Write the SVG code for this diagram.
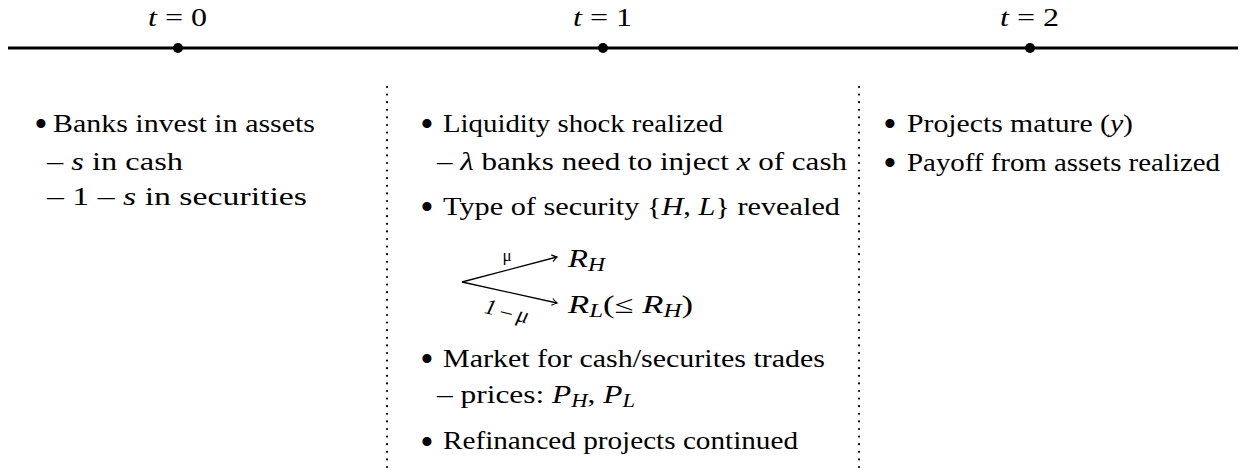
<svg xmlns="http://www.w3.org/2000/svg" width="1242" height="470" viewBox="0 0 1242 470">
<style>
text{font-family:'Liberation Serif','Times New Roman',serif;font-size:25px;fill:#000}
.i{font-style:italic}
.sub{font-size:18px;font-style:italic}
.b{text-anchor:middle;font-size:38px}
.dot{stroke:#000;stroke-width:2.2;stroke-linecap:round;stroke-dasharray:0 7.6;fill:none}
.arr{stroke:#000;stroke-width:1.3;fill:none}
</style>
<defs>
<marker id="ah" markerWidth="10" markerHeight="10" refX="0" refY="0" viewBox="-6 -5 8 10" orient="auto" markerUnits="userSpaceOnUse">
<path d="M-5,-3.5 Q-2,-1 0,0 Q-2,1 -5,3.5" stroke="#000" stroke-width="1.2" fill="none"/>
</marker>
</defs>
<g id="timeline">
<line x1="8" y1="48" x2="1238" y2="48" stroke="#000" stroke-width="3"/>
<circle cx="178" cy="48" r="5"/>
<circle cx="603" cy="48" r="5"/>
<circle cx="1030" cy="48" r="5"/>
<text x="148" y="26" textLength="59" lengthAdjust="spacingAndGlyphs"><tspan class="i">t</tspan> = 0</text>
<text x="573" y="26" textLength="59" lengthAdjust="spacingAndGlyphs"><tspan class="i">t</tspan> = 1</text>
<text x="1000" y="26" textLength="59" lengthAdjust="spacingAndGlyphs"><tspan class="i">t</tspan> = 2</text>
</g>
<g id="separators">
<line class="dot" x1="387" y1="87" x2="387" y2="470"/>
<line class="dot" x1="859" y1="87" x2="859" y2="470"/>
</g>
<g id="col0">
<text class="b" x="41" y="136.5">•</text>
<text x="53" y="132" textLength="262" lengthAdjust="spacingAndGlyphs">Banks invest in assets</text>
<text x="47" y="170" textLength="136" lengthAdjust="spacingAndGlyphs">– <tspan class="i">s</tspan> in cash</text>
<text x="47" y="205" textLength="260" lengthAdjust="spacingAndGlyphs">– 1 – <tspan class="i">s</tspan> in securities</text>
</g>
<g id="col1">
<text class="b" x="427" y="136.5">•</text>
<text x="443" y="132" textLength="280" lengthAdjust="spacingAndGlyphs">Liquidity shock realized</text>
<text x="437" y="170" textLength="410" lengthAdjust="spacingAndGlyphs">– <tspan class="i">λ</tspan> banks need to inject <tspan class="i">x</tspan> of cash</text>
<text class="b" x="427" y="219.5">•</text>
<text x="443" y="215" textLength="397" lengthAdjust="spacingAndGlyphs">Type of security {<tspan class="i">H</tspan>, <tspan class="i">L</tspan>} revealed</text>
<text x="568" y="267" textLength="37" lengthAdjust="spacingAndGlyphs"><tspan class="i">R</tspan><tspan class="sub" dy="4">H</tspan></text>
<text x="568" y="313" textLength="125" lengthAdjust="spacingAndGlyphs"><tspan class="i">R</tspan><tspan class="sub" dy="4">L</tspan><tspan dy="-4">(≤ </tspan><tspan class="i">R</tspan><tspan class="sub" dy="4">H</tspan><tspan dy="-4">)</tspan></text>
<text class="b" x="427" y="371.5">•</text>
<text x="443" y="367" textLength="382" lengthAdjust="spacingAndGlyphs">Market for cash/securites trades</text>
<text x="437" y="403" textLength="198" lengthAdjust="spacingAndGlyphs">– prices: <tspan class="i">P</tspan><tspan class="sub" dy="4">H</tspan><tspan dy="-4">, </tspan><tspan class="i">P</tspan><tspan class="sub" dy="4">L</tspan></text>
<text class="b" x="427" y="454.5">•</text>
<text x="443" y="449" textLength="355" lengthAdjust="spacingAndGlyphs">Refinanced projects continued</text>
</g>
<g id="col2">
<text class="b" x="890" y="136.5">•</text>
<text x="907" y="132" textLength="226" lengthAdjust="spacingAndGlyphs">Projects mature (<tspan class="i">y</tspan>)</text>
<text class="b" x="890" y="175.5">•</text>
<text x="907" y="171" textLength="313" lengthAdjust="spacingAndGlyphs">Payoff from assets realized</text>
</g>
<g id="connectors">
<line class="arr" x1="462" y1="282" x2="557" y2="257" marker-end="url(#ah)"/>
<line class="arr" x1="462" y1="282" x2="557" y2="303" marker-end="url(#ah)"/>
</g>
<g id="tree-labels">
<text x="507" y="261" text-anchor="middle" style="font-size:17px">μ</text>
<text x="505" y="318" text-anchor="middle" transform="rotate(14 505 318)" class="i" style="font-size:22px">1 – μ</text>
</g>
</svg>
